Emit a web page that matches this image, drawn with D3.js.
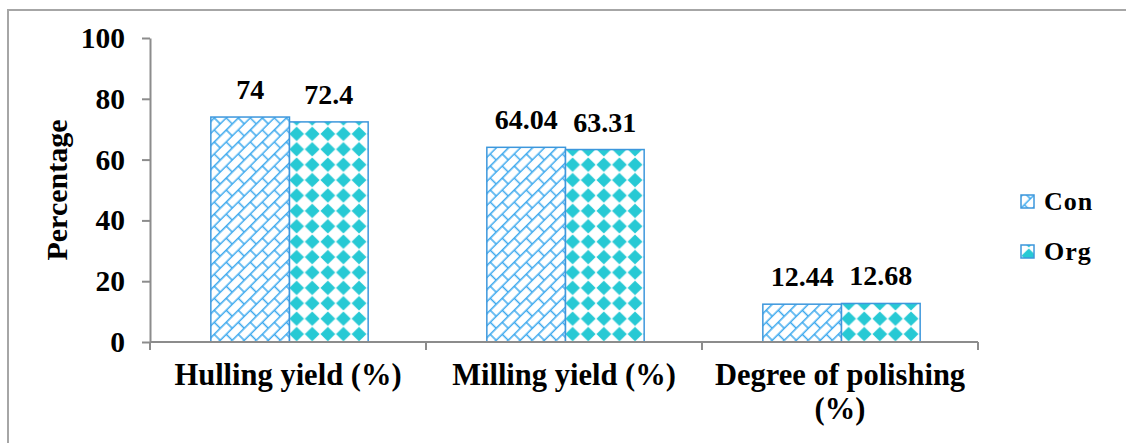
<!DOCTYPE html>
<html>
<head>
<meta charset="utf-8">
<script src="https://cdn.jsdelivr.net/npm/d3@7"></script>
<style>
  html, body { margin: 0; padding: 0; background: #ffffff; }
  svg text { font-family: "Liberation Serif", "Times New Roman", serif; font-weight: bold; fill: #000; }
</style>
</head>
<body>
<svg id="chart" width="1126" height="443"></svg>
<script>
// Rice milling quality: conventional vs organic
const categories = ["Hulling yield (%)", "Milling yield (%)", "Degree of polishing (%)"];
const seriesNames = ["Con", "Org"];
const conValues = [74, 64.04, 12.44];
const orgValues = [72.4, 63.31, 12.68];
const yTicks = [0, 20, 40, 60, 80, 100];
const yTitle = "Percentage";

const rows = categories.map((c, i) => ({ category: c, values: [conValues[i], orgValues[i]] }));

const svg = d3.select("#chart");
const defs = svg.append("defs");

// Brick-like diagonal hatch for "Con"
const brick = defs.append("pattern")
  .attr("id", "pat-con")
  .attr("patternUnits", "userSpaceOnUse")
  .attr("width", 17).attr("height", 17)
  .attr("patternTransform", "rotate(-45)");
brick.append("rect").attr("width", 17).attr("height", 17).attr("fill", "#ffffff");
brick.append("g")
  .attr("stroke", "#3aa8ee").attr("stroke-width", 1.5).attr("fill", "none")
  .selectAll("path")
  .data([
    "M0,0.8H17", "M0,9.3H17",
    "M4,0.8V9.3", "M12.5,9.3V17"
  ])
  .join("path").attr("d", d => d);

// Diamond checker for "Org"
const diamond = defs.append("pattern")
  .attr("id", "pat-org")
  .attr("patternUnits", "userSpaceOnUse")
  .attr("width", 15.6).attr("height", 15.4)
  .attr("x", 0).attr("y", 3);
diamond.append("rect").attr("width", 15.6).attr("height", 15.4).attr("fill", "#ffffff");
diamond.append("path")
  .attr("d", "M7.8,0.4 L15.2,7.7 L7.8,15 L0.4,7.7 Z")
  .attr("fill", "#27c9d4");

const fills = ["url(#pat-con)", "url(#pat-org)"];

// Outer frame
svg.append("rect")
  .attr("x", 8).attr("y", 10)
  .attr("width", 1140).attr("height", 460)
  .attr("fill", "none").attr("stroke", "#a6a6a6").attr("stroke-width", 2);

const plotLeft = 150, plotRight = 978, plotTop = 38, plotBottom = 342;

const y = d3.scaleLinear().domain([0, 100]).range([plotBottom, plotTop]);
const x0 = d3.scaleBand().domain(categories).range([plotLeft, plotRight])
  .paddingInner(0.43).paddingOuter(0.215);
const x1 = d3.scaleBand().domain(seriesNames).range([0, x0.bandwidth()]);

const axisColor = "#8c8c8c";

// Y axis
const yAxis = svg.append("g")
  .attr("transform", `translate(${plotLeft},0)`)
  .call(d3.axisLeft(y).tickValues(yTicks).tickSize(8).tickSizeOuter(0).tickPadding(17));
yAxis.select(".domain").attr("stroke", axisColor).attr("stroke-width", 2);
yAxis.selectAll(".tick line").attr("stroke", axisColor).attr("stroke-width", 2);
yAxis.selectAll(".tick text")
  .attr("font-size", 29.5).attr("fill", "#000")
  .style("font-family", "'Liberation Serif', 'Times New Roman', serif")
  .style("font-weight", "bold");

// Y title
svg.append("text")
  .attr("transform", `translate(67,${(plotTop + plotBottom) / 2}) rotate(-90)`)
  .attr("text-anchor", "middle")
  .attr("font-size", 30)
  .text(yTitle);

// Bars
const groups = svg.append("g").selectAll("g")
  .data(rows).join("g")
  .attr("transform", d => `translate(${x0(d.category) + 1.5},0)`);

groups.selectAll("rect")
  .data(d => d.values.map((v, i) => ({ name: seriesNames[i], value: v, idx: i })))
  .join("rect")
  .attr("x", d => x1(d.name))
  .attr("y", d => y(d.value))
  .attr("width", x1.bandwidth())
  .attr("height", d => y(0) - y(d.value))
  .attr("fill", d => fills[d.idx])
  .attr("stroke", "#3d97dc")
  .attr("stroke-width", 1.5);

// Value labels
groups.selectAll("text.value")
  .data(d => d.values.map((v, i) => ({ name: seriesNames[i], value: v })))
  .join("text")
  .attr("class", "value")
  .attr("x", d => x1(d.name) + x1.bandwidth() / 2)
  .attr("y", d => y(d.value) - 18)
  .attr("text-anchor", "middle")
  .attr("font-size", 28)
  .text(d => d.value);

// X axis line and category boundary ticks
const xAxis = svg.append("g").attr("transform", `translate(0,${plotBottom})`);
xAxis.append("line")
  .attr("x1", plotLeft).attr("x2", plotRight)
  .attr("stroke", axisColor).attr("stroke-width", 2);
const bounds = d3.range(categories.length + 1).map(i => plotLeft + i * x0.step());
xAxis.selectAll("line.tick")
  .data(bounds).join("line")
  .attr("class", "tick")
  .attr("x1", d => d).attr("x2", d => d)
  .attr("y1", 0).attr("y2", 8)
  .attr("stroke", axisColor).attr("stroke-width", 2);

// Category labels, wrapped to the band width
const catLabels = svg.append("g").selectAll("text")
  .data(categories).join("text")
  .attr("x", d => x0(d) + x0.bandwidth() / 2)
  .attr("y", 385)
  .attr("text-anchor", "middle")
  .attr("font-size", 30.5)
  .text(d => d);

catLabels.each(function (d) {
  const t = d3.select(this);
  const maxW = x0.step() - 10;
  if (this.getComputedTextLength() <= maxW) return;
  const words = d.split(" ");
  const cx = +t.attr("x");
  t.text(null);
  let line = [];
  let tspan = t.append("tspan").attr("x", cx);
  words.forEach(w => {
    line.push(w);
    tspan.text(line.join(" "));
    if (tspan.node().getComputedTextLength() > maxW && line.length > 1) {
      line.pop();
      tspan.text(line.join(" "));
      line = [w];
      tspan = t.append("tspan").attr("x", cx).attr("dy", 34).text(w);
    }
  });
});

// Legend
const legend = svg.append("g").selectAll("g")
  .data(seriesNames).join("g")
  .attr("transform", (d, i) => `translate(1021,${195 + i * 50})`);
legend.append("rect")
  .attr("width", 13).attr("height", 13)
  .attr("fill", (d, i) => fills[i])
  .attr("stroke", "#3d97dc").attr("stroke-width", 1.5);
legend.append("text")
  .attr("x", 23).attr("y", 15)
  .attr("font-size", 26)
  .attr("letter-spacing", 1)
  .text(d => d);
</script>
</body>
</html>
